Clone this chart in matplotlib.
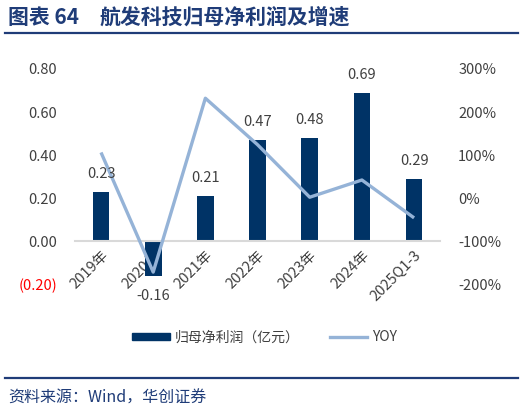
import matplotlib
matplotlib.use('Agg')
import numpy as np
import matplotlib.pyplot as plt
from matplotlib.lines import Line2D
from matplotlib.patches import Rectangle

plt.rcParams['font.family'] = ['Noto Sans CJK SC', 'DejaVu Sans']

years = ['2019年', '2020年', '2021年', '2022年', '2023年', '2024年', '2025Q1-3']
profit = [0.23, -0.16, 0.21, 0.47, 0.48, 0.69, 0.29]
yoy = [106, -172, 232, 124, 2, 42, -46]

bar_color = '#003366'
line_color = '#95B3D7'
text_color = '#404040'
navy = '#1F3C78'

fig = plt.figure(figsize=(5.24, 4.13), dpi=100)
ax = fig.add_axes([0.143, 0.312, 0.697, 0.521])
ax2 = ax.twinx()

x = np.arange(len(years))
ax.bar(x, profit, width=0.32, color=bar_color, zorder=2)

ax2.plot(x, np.array(yoy) / 100, color=line_color, lw=2.4, solid_capstyle='butt', zorder=3)

# value labels drawn on the top axes so the line does not hide them
for xi, v in zip(x, profit):
    if v >= 0:
        ax2.annotate(f'{v:.2f}', (xi, v), xycoords=ax.transData, xytext=(0, 8),
                     textcoords='offset points', ha='center', va='bottom',
                     fontsize=10.5, color=text_color, zorder=5)
    else:
        ax2.annotate(f'{v:.2f}', (xi, v), xycoords=ax.transData, xytext=(0, -10),
                     textcoords='offset points', ha='center', va='top',
                     fontsize=10.5, color=text_color, zorder=5)

ax.set_xlim(-0.5, len(years) - 0.5)
ax.set_ylim(-0.2, 0.8)
ax2.set_ylim(-2, 3)

ax.set_yticks([0.8, 0.6, 0.4, 0.2, 0.0, -0.2])
ax.set_yticklabels(['0.80', '0.60', '0.40', '0.20', '0.00', '(0.20)'])
ax2.set_yticks([3, 2, 1, 0, -1, -2])
ax2.set_yticklabels(['300%', '200%', '100%', '0%', '-100%', '-200%'])

for a in (ax, ax2):
    for s in ['top', 'left', 'right', 'bottom']:
        a.spines[s].set_visible(False)
    a.tick_params(axis='y', length=0, labelsize=10.5, labelcolor=text_color, pad=13)
ax.get_yticklabels()[-1].set_color('red')

ax.spines['bottom'].set_visible(True)
ax.spines['bottom'].set_position(('data', 0))
ax.spines['bottom'].set_color('#D9D9D9')
ax.spines['bottom'].set_linewidth(1.5)
ax.set_xticks(x)
ax.set_xticklabels(years, rotation=45, ha='right', rotation_mode='anchor')
ax.tick_params(axis='x', length=0, labelsize=10.5, labelcolor=text_color, pad=5)
ax.set_zorder(ax2.get_zorder() - 1)
ax.patch.set_visible(False)

handles = [Rectangle((0, 0), 1, 1, color=bar_color), Line2D([], [], color=line_color, lw=2.4)]
leg = fig.legend(handles, ['归母净利润（亿元）', 'YOY'], loc='center', bbox_to_anchor=(0.505, 0.183),
                 ncol=2, frameon=False, fontsize=10, handlelength=2.7, handleheight=0.5,
                 handletextpad=0.35, columnspacing=2.2)
for t in leg.get_texts():
    t.set_color(text_color)

fig.text(0.016, 0.958, '图表 64', fontsize=15, fontweight='bold', color=navy, va='center')
fig.text(0.19, 0.958, '航发科技归母净利润及增速', fontsize=15, fontweight='bold', color=navy, va='center')
fig.add_artist(Line2D([0.01, 0.988], [0.92, 0.92], color=navy, lw=1.6))
fig.add_artist(Line2D([0.01, 0.988], [0.085, 0.085], color=navy, lw=1.6))
fig.text(0.016, 0.036, '资料来源：Wind，华创证券', fontsize=11.5, color=navy, va='center', style='italic')

fig.savefig('out.png', dpi=100)
